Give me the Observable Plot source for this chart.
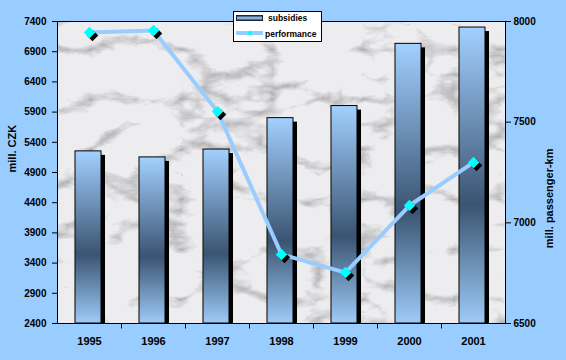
<!DOCTYPE html>
<html><head><meta charset="utf-8">
<script src="https://cdn.jsdelivr.net/npm/d3@7"></script>
<script src="https://cdn.jsdelivr.net/npm/@observablehq/plot@0.6"></script>
<style>
body{margin:0;background:#99CCFF;}
#wrap{position:relative;width:566px;height:360px;background:#99CCFF;font-family:"Liberation Sans",Arial,sans-serif;font-weight:bold;}
#legend{position:absolute;left:233px;top:11px;width:87px;height:29px;background:#fff;border:1px solid #000;font-size:8.5px;color:#000;}
#legend .sw1{position:absolute;left:2px;top:3px;width:25px;height:4px;border:1px solid #1a2a3a;background:linear-gradient(to bottom,#2f4b68,#a9d2fb,#2f4b68);}
#legend .sw2{position:absolute;left:2px;top:19px;width:27px;height:4px;background:#99CCFF;}
#legend .dia{position:absolute;left:14px;top:19px;width:4px;height:4px;background:#00FFFF;transform:rotate(45deg);}
#legend .t1{position:absolute;left:34px;top:1px;}
#legend .t2{position:absolute;left:31px;top:17px;}
</style></head><body>
<div id="wrap">
</div>
<script>
const years = ["1995", "1996", "1997", "1998", "1999", "2000", "2001"];
const subsidies = [5250, 5150, 5280, 5800, 6000, 7030, 7300];
const performance = [7945, 7955, 7553, 6843, 6753, 7086, 7300];
const leftTicks = [2400, 2900, 3400, 3900, 4400, 4900, 5400, 5900, 6400, 6900, 7400];
const rightTicks = [6500, 7000, 7500, 8000];
const leftDomain = [2400, 7400];
const rightDomain = [6500, 8000];
const legendLabels = ["subsidies", "performance"];
const axisTitles = ["mill. CZK", "mill. passenger-km"];

const k = (leftDomain[1] - leftDomain[0]) / (rightDomain[1] - rightDomain[0]);
const toLeft = v => leftDomain[0] + (v - rightDomain[0]) * k;
const fromLeft = v => rightDomain[0] + (v - leftDomain[0]) / k;

const rows = years.map((y, i) => ({year: y, base: leftDomain[0], subsidy: subsidies[i], perf: performance[i], perfLeft: toLeft(performance[i])}));

const diamond = {
  draw(ctx, size) {
    const h = Math.sqrt(size / 2);
    ctx.moveTo(0, -h); ctx.lineTo(h, 0); ctx.lineTo(0, h); ctx.lineTo(-h, 0); ctx.closePath();
  }
};
const tickDown = {
  draw(ctx, size) { ctx.moveTo(0, 0); ctx.lineTo(0, 5); }
};

const W = 566, H = 360, mL = 57, mR = 61, mT = 21, mB = 37;
const font = '"Liberation Sans", Arial, sans-serif';

const svg = Plot.plot({
  width: W, height: H,
  marginLeft: mL, marginRight: mR, marginTop: mT, marginBottom: mB,
  style: {background: "#99CCFF", fontFamily: font, fontWeight: "bold", fontSize: "10px", color: "#000"},
  x: {type: "band", domain: years, padding: 0, axis: null},
  y: {domain: leftDomain, axis: null},
  marks: [
    Plot.rectY(rows, {x: "year", y1: "base", y2: "subsidy", fill: "black", dx: 4, dy: 4, insetBottom: 4, insetLeft: 18, insetRight: 20}),
    Plot.rectY(rows, {x: "year", y1: "base", y2: "subsidy", fill: "url(#barGrad)", stroke: "black", strokeWidth: 1, insetLeft: 18, insetRight: 20}),
    Plot.line(rows, {x: "year", y: "perfLeft", stroke: "#99CCFF", strokeWidth: 4}),
    Plot.dot(rows, {x: "year", y: "perfLeft", symbol: diamond, r: 4.6, fill: "black", dx: 3, dy: 3}),
    Plot.dot(rows, {x: "year", y: "perfLeft", symbol: diamond, r: 4.6, fill: "#00FFFF"}),
    Plot.frame({stroke: "black"}),
    Plot.axisY({anchor: "left", ticks: leftTicks, tickFormat: d => String(d), tickSize: 5, tickPadding: 6, label: null, fontSize: 10}),
    Plot.axisY({anchor: "right", ticks: rightTicks.map(toLeft), tickFormat: d => String(Math.round(fromLeft(d))), tickSize: 5, tickPadding: 3, label: null, fontSize: 10}),
    Plot.axisX({tickSize: 0, tickPadding: 14, fontSize: 11, label: null}),
    Plot.dot(years.slice(1), {x: d => d, frameAnchor: "bottom", dx: -32, symbol: tickDown, r: 3, stroke: "black", strokeWidth: 1, fill: "none"}),
    Plot.text([axisTitles[0]], {frameAnchor: "left", dx: -45, rotate: -90, fontSize: 11, fontWeight: "bold"}),
    Plot.text([axisTitles[1]], {frameAnchor: "right", dx: 44, dy: -24, rotate: -90, fontSize: 11, fontWeight: "bold"})
  ]
});

const ns = "http://www.w3.org/2000/svg";
const defs = document.createElementNS(ns, "defs");
const pw = W - mL - mR, ph = H - mT - mB;
defs.innerHTML = `
<linearGradient id="barGrad" x1="0" y1="0" x2="0" y2="1">
  <stop offset="0" stop-color="#A3D0FF"/>
  <stop offset="0.6" stop-color="#3A5472"/>
  <stop offset="1" stop-color="#9ECBF7"/>
</linearGradient>
<filter id="marble" x="${mL}" y="${mT}" width="${pw}" height="${ph}" filterUnits="userSpaceOnUse" color-interpolation-filters="sRGB">
  <feTurbulence type="turbulence" baseFrequency="0.011 0.02" numOctaves="5" seed="11"/>
  <feColorMatrix type="matrix" values="1.9 0 0 0 0.5  1.9 0 0 0 0.5  1.9 0 0 0 0.5  0 0 0 0 1"/>
  <feComponentTransfer>
    <feFuncR type="linear" slope="0.5" intercept="0.43"/>
    <feFuncG type="linear" slope="0.5" intercept="0.43"/>
    <feFuncB type="linear" slope="0.5" intercept="0.44"/>
  </feComponentTransfer>
</filter>`;
const bg = document.createElementNS(ns, "rect");
bg.setAttribute("x", mL); bg.setAttribute("y", mT);
bg.setAttribute("width", pw); bg.setAttribute("height", ph);
bg.setAttribute("fill", "#fff");
bg.setAttribute("filter", "url(#marble)");
const firstG = svg.querySelector(":scope > g");
svg.insertBefore(defs, firstG);
svg.insertBefore(bg, firstG);

const wrap = document.getElementById("wrap");
wrap.appendChild(svg);
const legend = document.createElement("div");
legend.id = "legend";
legend.innerHTML = `<div class="sw1"></div><div class="t1">${legendLabels[0]}</div><div class="sw2"></div><div class="dia"></div><div class="t2">${legendLabels[1]}</div>`;
wrap.appendChild(legend);
</script>
</body></html>
